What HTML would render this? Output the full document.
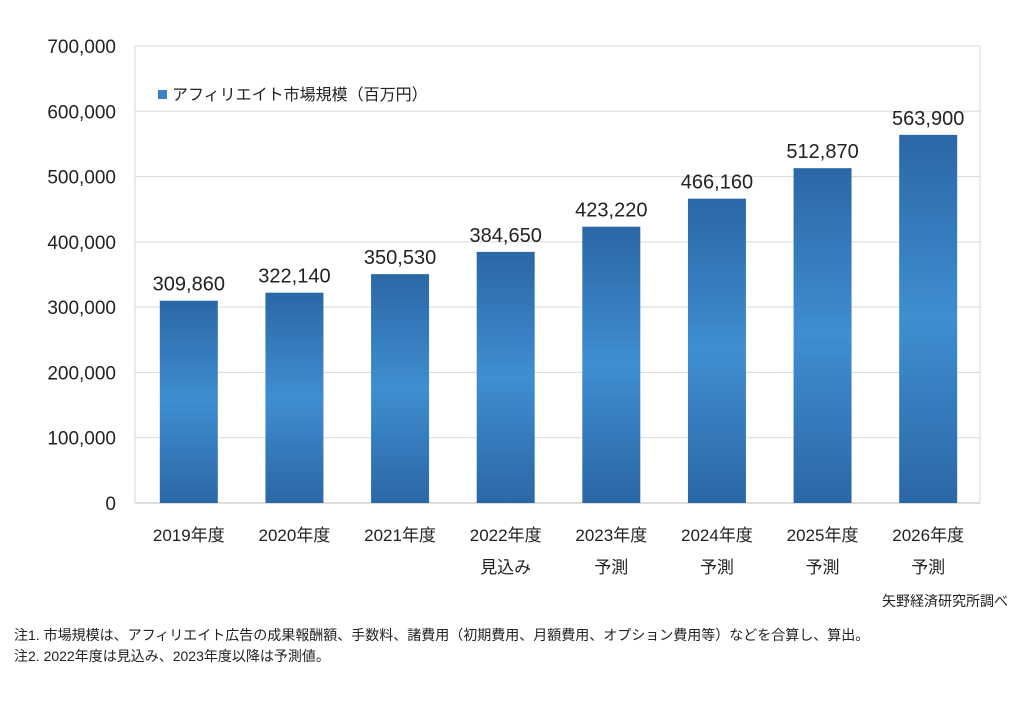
<!DOCTYPE html>
<html><head><meta charset="utf-8"><style>
body{margin:0;background:#fff;width:1024px;height:697px;overflow:hidden;font-family:"Liberation Sans","Noto Sans CJK JP",sans-serif;}
svg text{font-family:"Liberation Sans","Noto Sans CJK JP",sans-serif;}
</style></head><body>
<svg id="chart" width="1024" height="697" xmlns="http://www.w3.org/2000/svg">
<defs><linearGradient id="g" x1="0" y1="0" x2="0" y2="1">
<stop offset="0" stop-color="#2b67a6"/><stop offset="0.5" stop-color="#3f8ed0"/><stop offset="1" stop-color="#2b67a6"/></linearGradient></defs>
<g id="grid"></g><g id="bars"></g><g id="labels"></g>
<rect x="158" y="90" width="9" height="9" fill="#3a80c4"/>
<text x="172" y="100" font-size="16" fill="#222">アフィリエイト市場規模（百万円）</text>
<text x="1008" y="606" font-size="14" text-anchor="end" fill="#222">矢野経済研究所調べ</text>
<text x="14" y="640" font-size="14" fill="#222">注1.  市場規模は、アフィリエイト広告の成果報酬額、手数料、諸費用（初期費用、月額費用、オプション費用等）などを合算し、算出。</text>
<text x="14" y="661" font-size="14" fill="#222">注2.  2022年度は見込み、2023年度以降は予測値。</text>
</svg>
<script>
const categories=["2019年度","2020年度","2021年度","2022年度","2023年度","2024年度","2025年度","2026年度"];
const subLabels=["","","","見込み","予測","予測","予測","予測"];
const values=[309860,322140,350530,384650,423220,466160,512870,563900];
const ticks=[0,100000,200000,300000,400000,500000,600000,700000];
const NS="http://www.w3.org/2000/svg";
const L=135,R=980,T=46,B=503,max=700000;
const y=v=>B-(v/max)*(B-T);
const slot=(R-L)/categories.length;
const x=i=>L+slot*(i+0.5)+1;
function mk(tag,attrs,parent,text){const e=document.createElementNS(NS,tag);for(const k in attrs)e.setAttribute(k,attrs[k]);if(text!==undefined)e.textContent=text;document.getElementById(parent).appendChild(e);return e;}
ticks.forEach(t=>{
 const l=mk("line",{x1:L,x2:R,y1:y(t),y2:y(t),stroke:t===0?"#bbb":"#d9d9d9","stroke-width":1},"grid");
 
 
 const tx=mk("text",{x:116,y:y(t)+7,"font-size":19,"text-anchor":"end",fill:"#222"},"labels",t.toLocaleString("en-US"));
 
 
});
const lv=mk("line",{x1:L,x2:L,y1:T,y2:B,stroke:"#d9d9d9"},"grid");


const lr=mk("line",{x1:R,x2:R,y1:T,y2:B,stroke:"#d9d9d9"},"grid");


const bw=58;
values.forEach((v,i)=>{
 const r=mk("rect",{x:x(i)-bw/2,y:y(v),width:bw,height:B-y(v),fill:"url(#g)"},"bars");
 
 
 const vt=mk("text",{x:x(i),y:y(v)-10,"font-size":20,"text-anchor":"middle",fill:"#222"},"labels",v.toLocaleString("en-US"));
 
 
 const ct=mk("text",{x:x(i),y:541,"font-size":17,"text-anchor":"middle",fill:"#222"},"labels",categories[i]);
 
 
 if(subLabels[i]){
  const st=mk("text",{x:x(i),y:573,"font-size":17,"text-anchor":"middle",fill:"#222"},"labels",subLabels[i]);
  
  
 }
});
</script>
</body></html>
